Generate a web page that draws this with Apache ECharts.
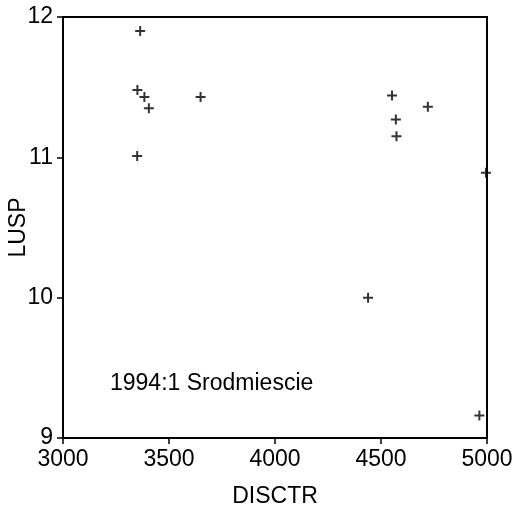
<!DOCTYPE html>
<html>
<head>
<meta charset="utf-8">
<script src="https://cdn.jsdelivr.net/npm/echarts@6/dist/echarts.min.js"></script>
<style>
  html, body { margin: 0; padding: 0; background: #fff; }
  #main { width: 514px; height: 515px; }
</style>
</head>
<body>
<div id="main"></div>
<script>
// DISCTR vs LUSP
var disctr = [3364, 3351, 3384, 3405, 3350, 3649, 4552, 4721, 4570, 4573, 4995, 4439, 4964];
var lusp = [11.90, 11.48, 11.43, 11.35, 11.01, 11.43, 11.44, 11.36, 11.27, 11.15, 10.89, 10.00, 9.16];
var note = '1994:1 Srodmiescie';

var points = disctr.map(function (x, i) { return [x, lusp[i]]; });
var font = 'Liberation Sans, Arial, sans-serif';

var chart = echarts.init(document.getElementById('main'));
chart.setOption({
  animation: false,
  backgroundColor: '#fff',
  grid: {
    left: 63, right: 27, top: 17, bottom: 77,
    outerBoundsMode: 'none', containLabel: false,
    show: true, borderColor: '#000', borderWidth: 2
  },
  xAxis: {
    type: 'value', min: 3000, max: 5000, interval: 500,
    name: 'DISCTR', nameLocation: 'middle', nameGap: 47, nameMoveOverlap: false,
    nameTextStyle: { color: '#000', fontSize: 23, fontFamily: font },
    axisLine: { lineStyle: { color: '#000', width: 2 } },
    axisTick: { show: true, inside: false, length: 6, lineStyle: { color: '#000', width: 1.5 } },
    axisLabel: { color: '#000', fontSize: 23, fontFamily: font, margin: 10, formatter: function (v) { return String(v); } },
    splitLine: { show: false }
  },
  yAxis: {
    type: 'value', min: 9, max: 12, interval: 1,
    name: 'LUSP', nameLocation: 'middle', nameGap: 33, nameMoveOverlap: false,
    nameTextStyle: { color: '#000', fontSize: 23, fontFamily: font },
    axisLine: { show: true, lineStyle: { color: '#000', width: 2 } },
    axisTick: { show: true, inside: false, length: 6, lineStyle: { color: '#000', width: 1.5 } },
    axisLabel: { color: '#000', fontSize: 23, fontFamily: font, margin: 10 },
    splitLine: { show: false }
  },
  graphic: [{
    type: 'text', left: 110, top: 372,
    style: { text: note, fill: '#000', fontSize: 23, fontFamily: font }
  }],
  series: [{
    type: 'scatter',
    data: points,
    clip: false,
    symbol: 'path://M4,0H6V4H10V6H6V10H4V6H0V4H4Z',
    symbolSize: 10,
    itemStyle: { color: '#000' }
  }]
});
</script>
</body>
</html>
